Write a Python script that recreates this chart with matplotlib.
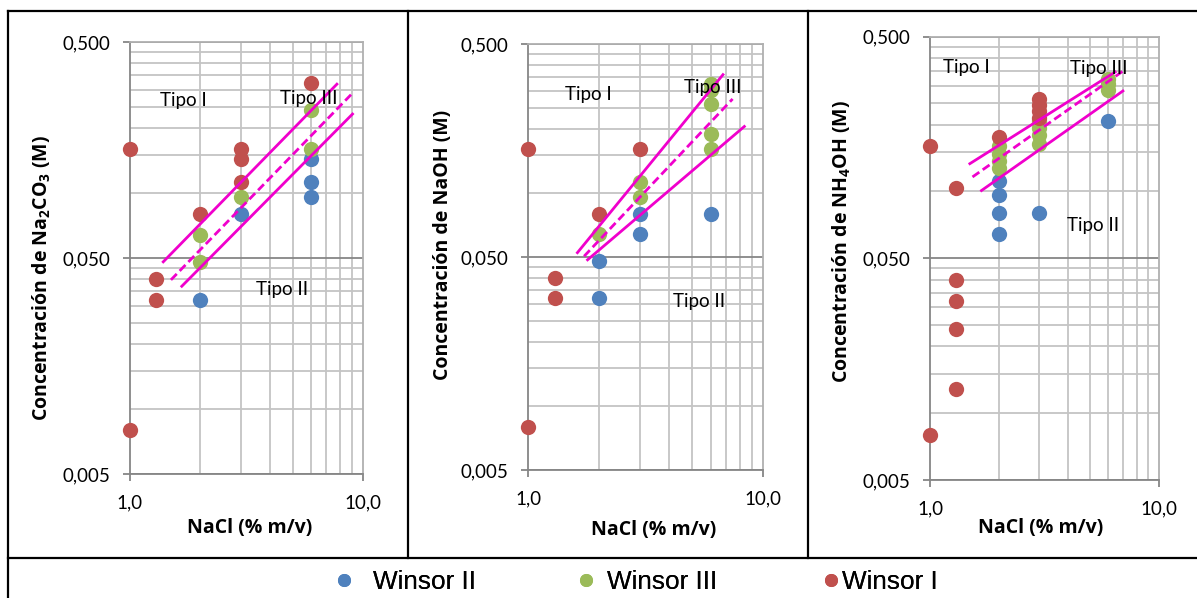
import matplotlib
matplotlib.use("Agg")
import matplotlib.pyplot as plt
from matplotlib.ticker import FixedLocator, NullFormatter
from matplotlib.lines import Line2D

plt.rcParams['font.family'] = ['Lato', 'DejaVu Sans']
plt.rcParams['mathtext.default'] = 'regular'

W, H = 1197, 598

# colores de Excel
BLUE = '#4F81BD'
GREEN = '#9BBB59'
RED = '#C0504D'
MAG = '#F000CC'

# --- Na2CO3 ---
na2co3_blue_x = [2, 3, 6, 6, 6]
na2co3_blue_y = [0.032, 0.08, 0.144, 0.112, 0.096]
na2co3_green_x = [2, 2, 3, 6, 6]
na2co3_green_y = [0.064, 0.048, 0.096, 0.241, 0.16]
na2co3_red_x = [1, 1, 1.3, 1.3, 2, 3, 3, 3, 6]
na2co3_red_y = [0.16, 0.008, 0.04, 0.032, 0.08, 0.16, 0.144, 0.112, 0.323]
na2co3_up = ([1.39, 7.76], [0.048, 0.319])
na2co3_mid = ([1.50, 9.06], [0.0396, 0.29])
na2co3_low = ([1.67, 9.06], [0.037, 0.232])
na2co3_tipos = [(1.69, 0.267), (5.86, 0.273), (4.5, 0.0357)]

# --- NaOH ---
naoh_blue_x = [2, 2, 3, 3, 6]
naoh_blue_y = [0.048, 0.032, 0.08, 0.064, 0.08]
naoh_green_x = [2, 3, 3, 6, 6, 6, 6, 6]
naoh_green_y = [0.064, 0.112, 0.096, 0.325, 0.305, 0.26, 0.19, 0.16]
naoh_red_x = [1, 1, 1.3, 1.3, 2, 3]
naoh_red_y = [0.16, 0.008, 0.04, 0.032, 0.08, 0.16]
naoh_up = ([1.62, 6.77], [0.0524, 0.359])
naoh_mid = ([1.73, 7.44], [0.0504, 0.276])
naoh_low = ([1.79, 8.35], [0.0485, 0.205])
naoh_tipos = [(1.80, 0.289), (6.13, 0.312), (5.36, 0.031)]

# --- NH4OH ---
nh4oh_blue_x = [2, 2, 2, 2, 3, 6]
nh4oh_blue_y = [0.112, 0.096, 0.08, 0.064, 0.08, 0.208]
nh4oh_green_x = [2, 2, 2, 2, 3, 3, 3, 3, 6, 6, 6]
nh4oh_green_y = [0.16, 0.147, 0.137, 0.127, 0.208, 0.194, 0.18, 0.164, 0.322, 0.305, 0.288]
nh4oh_red_x = [1, 1, 1.3, 1.3, 1.3, 1.3, 1.3, 2, 3, 3, 3, 3]
nh4oh_red_y = [0.16, 0.008, 0.104, 0.04, 0.032, 0.024, 0.0128, 0.177, 0.26, 0.245, 0.23, 0.215]
nh4oh_up = ([1.49, 6.45], [0.1335, 0.346])
nh4oh_mid = ([1.53, 6.97], [0.1163, 0.349])
nh4oh_low = ([1.675, 6.97], [0.101, 0.284])
nh4oh_tipos = [(1.44, 0.361), (5.49, 0.359), (5.15, 0.0704)]

tipo_names = ['Tipo I', 'Tipo III', 'Tipo II']
series_names = ['Winsor II', 'Winsor III', 'Winsor I']
y_ticks = [0.005, 0.05, 0.5]
y_ticklabels = ['0,005', '0,050', '0,500']
x_ticks = [1, 10]
x_ticklabels = ['1,0', '10,0']

panels = [
    dict(box=(130, 42, 362.5, 474), ylab=r'Concentración de Na$_2$CO$_3$ (M)',
         ylab_c=(42, 278), xlab_c=(250, 528),
         blue=(na2co3_blue_x, na2co3_blue_y), green=(na2co3_green_x, na2co3_green_y),
         red=(na2co3_red_x, na2co3_red_y), up=na2co3_up, mid=na2co3_mid, low=na2co3_low,
         tipos=na2co3_tipos),
    dict(box=(528.3, 44, 762.7, 470), ylab='Concentración de NaOH (M)',
         ylab_c=(443, 245), xlab_c=(654, 530),
         blue=(naoh_blue_x, naoh_blue_y), green=(naoh_green_x, naoh_green_y),
         red=(naoh_red_x, naoh_red_y), up=naoh_up, mid=naoh_mid, low=naoh_low,
         tipos=naoh_tipos),
    dict(box=(930.3, 36.5, 1158.7, 480), ylab=r'Concentración de NH$_4$OH (M)',
         ylab_c=(842, 242), xlab_c=(1041, 528),
         blue=(nh4oh_blue_x, nh4oh_blue_y), green=(nh4oh_green_x, nh4oh_green_y),
         red=(nh4oh_red_x, nh4oh_red_y), up=nh4oh_up, mid=nh4oh_mid, low=nh4oh_low,
         tipos=nh4oh_tipos),
]

fig = plt.figure(figsize=(W / 100, H / 100), dpi=100)

minor_y = [0.005 * k * 10 ** n for n in (0, 1) for k in range(2, 10)]
minor_x = list(range(2, 10))

# rótulos en negrita
bold_font = dict(family=['Open Sans', 'DejaVu Sans'], size=14, weight='bold')

handles = None
for p in panels:
    l, t, r, b = p['box']
    ax = fig.add_axes([l / W, 1 - b / H, (r - l) / W, (b - t) / H])
    ax.set_xscale('log')
    ax.set_yscale('log')
    ax.set_xlim(1, 10)
    ax.set_ylim(0.005, 0.5)

    ax.yaxis.set_major_locator(FixedLocator(y_ticks))
    ax.yaxis.set_minor_locator(FixedLocator(minor_y))
    ax.xaxis.set_major_locator(FixedLocator(x_ticks))
    ax.xaxis.set_minor_locator(FixedLocator(minor_x))
    ax.set_yticklabels(y_ticklabels)
    ax.set_xticklabels(x_ticklabels)
    ax.xaxis.set_minor_formatter(NullFormatter())
    ax.yaxis.set_minor_formatter(NullFormatter())

    ax.grid(which='minor', color='#C4C4C4', lw=1.3)
    ax.grid(which='major', axis='y', color='#868686', lw=1.3)
    ax.set_axisbelow(True)
    ax.tick_params(which='minor', length=0)
    ax.tick_params(which='major', length=5, width=1.3, color='#868686',
                   labelsize=13.5, labelcolor='black')
    ax.tick_params(axis='y', pad=9)
    ax.tick_params(axis='x', pad=10)
    for side in ('left', 'bottom'):
        ax.spines[side].set_color('#868686')
        ax.spines[side].set_linewidth(1.3)
    for side in ('top', 'right'):
        ax.spines[side].set_color('#B0B0B0')
        ax.spines[side].set_linewidth(1.3)

    hb = ax.scatter(*p['blue'], s=121, color=BLUE, lw=0, zorder=3, clip_on=False)
    hg = ax.scatter(*p['green'], s=121, color=GREEN, lw=0, zorder=3, clip_on=False)
    hr = ax.scatter(*p['red'], s=121, color=RED, lw=0, zorder=3, clip_on=False)
    handles = [hb, hg, hr]

    ax.plot(*p['up'], color=MAG, lw=2, zorder=4)
    ax.plot(*p['mid'], color=MAG, lw=2, ls=(0, (3, 1.5)), zorder=4)
    ax.plot(*p['low'], color=MAG, lw=2, zorder=4)

    for name, (tx, ty) in zip(tipo_names, p['tipos']):
        ax.text(tx, ty, name, fontsize=13.5, ha='center', va='center', zorder=5)

    ax.set_ylabel(p['ylab'], fontdict=bold_font, va='center')
    ax.yaxis.set_label_coords((p['ylab_c'][0] - l) / (r - l), (b - p['ylab_c'][1]) / (b - t))
    ax.set_xlabel('NaCl (% m/v)', fontdict=bold_font, va='center')
    ax.xaxis.set_label_coords((p['xlab_c'][0] - l) / (r - l), (b - p['xlab_c'][1]) / (b - t))

# leyenda: tres entradas con separaciones como en el original
leg_font = dict(family=['Liberation Sans', 'DejaVu Sans'], size=18.8)
leg_pos = [(330.7, 1.0, 0.62), (572.5, 1.0, 0.31), (824.5, 0.5, 0.17)]
for h, name, (lx, hl, tp) in zip(handles, series_names, leg_pos):
    mk = Line2D([], [], ls='none', marker='o', ms=9.4, mew=0, color=h.get_facecolor()[0])
    lg = fig.legend([mk], [name], loc='center left', bbox_to_anchor=(lx / W, 1 - 582 / H),
                    frameon=False, borderpad=0, borderaxespad=0, handlelength=hl,
                    handletextpad=tp, prop=leg_font)
    fig.add_artist(lg)

# bordes de la tabla
def hline(y, x0, x1):
    fig.add_artist(Line2D([x0 / W, x1 / W], [1 - y / H, 1 - y / H], color='black', lw=1.6))

def vline(x, y0, y1):
    fig.add_artist(Line2D([x / W, x / W], [1 - y0 / H, 1 - y1 / H], color='black', lw=1.6))

hline(10.5, 7.5, W)
hline(557.5, 7.5, W)
vline(7.5, 10.5, H)
vline(407.5, 10.5, 557.5)
vline(808, 10.5, 557.5)

fig.savefig('out.png', dpi=100)
